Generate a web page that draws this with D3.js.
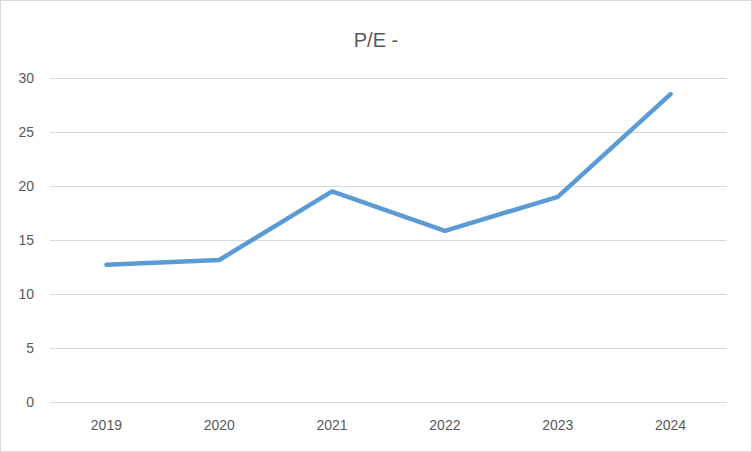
<!DOCTYPE html>
<html><head><meta charset="utf-8">
<script src="https://cdn.jsdelivr.net/npm/d3@7"></script>
<style>body{margin:0;background:#fff}svg{display:block}</style>
</head><body>
<svg id="chart" width="752" height="452"></svg>
<script>
const years = ["2019", "2020", "2021", "2022", "2023", "2024"];
const peValues = [12.7, 13.15, 19.5, 15.85, 19.0, 28.5];
const yTicks = [0, 5, 10, 15, 20, 25, 30];

const svg = d3.select("#chart");
const W = 752, H = 452;
const font = "'Liberation Sans', Arial, sans-serif";

svg.append("rect").attr("x", 0.5).attr("y", 0.5).attr("width", W - 1).attr("height", H - 1)
  .attr("fill", "#fff").attr("stroke", "#d9d9d9");

const x = d3.scaleBand().domain(years).range([50, 727]);
const y = d3.scaleLinear().domain([0, 30]).range([402, 78]);

// gridlines
svg.append("g").selectAll("line").data(yTicks).join("line")
  .attr("x1", 50).attr("x2", 727)
  .attr("y1", d => y(d) + 0.5).attr("y2", d => y(d) + 0.5)
  .attr("stroke", "#d9d9d9").attr("stroke-width", 1);

const yAxis = svg.append("g").attr("transform", "translate(50,0)")
  .call(d3.axisLeft(y).tickValues(yTicks).tickSize(0).tickPadding(16));
yAxis.select(".domain").remove();
yAxis.selectAll("text").attr("fill", "#595959").style("font", `14px ${font}`);

const xAxis = svg.append("g").attr("transform", "translate(0,402)")
  .call(d3.axisBottom(x).tickSize(0).tickPadding(18));
xAxis.select(".domain").remove();
xAxis.selectAll("text").attr("fill", "#595959").style("font", `14px ${font}`);

const line = d3.line().x((d, i) => x(years[i]) + x.bandwidth() / 2).y(d => y(d));
svg.append("path").datum(peValues).attr("d", line)
  .attr("fill", "none").attr("stroke", "#5b9bd5").attr("stroke-width", 4.5)
  .attr("stroke-linejoin", "round").attr("stroke-linecap", "round");

svg.append("text").attr("x", W / 2).attr("y", 47).attr("text-anchor", "middle")
  .attr("fill", "#595959").style("font", `20px ${font}`).text("P/E -");
</script>
</body></html>
